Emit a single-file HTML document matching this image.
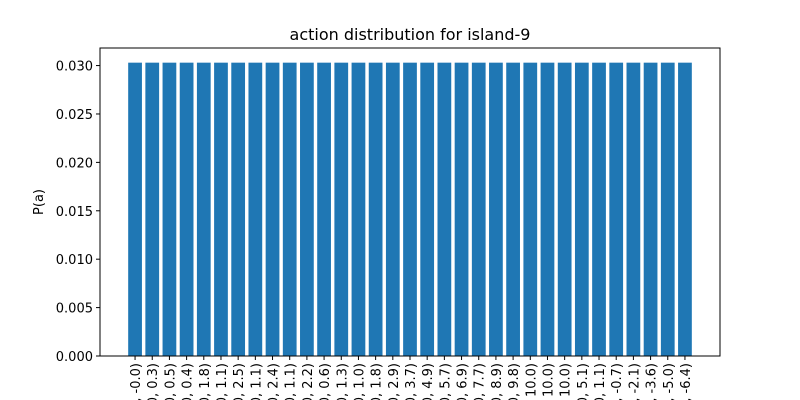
<!DOCTYPE html>
<html><head><meta charset="utf-8"><style>
body{margin:0;background:#fff;width:800px;height:400px;overflow:hidden}
svg{font-family:"DejaVu Sans","Liberation Sans",sans-serif;display:block;overflow:hidden}
</style></head><body>
<svg id="chart" width="800" height="400">
<defs><clipPath id="frameclip"><rect x="0" y="0" width="800" height="400"/></clipPath></defs>
<text x="410" y="40" text-anchor="middle" font-size="16">action distribution for island-9</text>
<text transform="translate(43,202) rotate(-90)" text-anchor="middle" font-size="13">P(a)</text>
<g id="bars"></g><g id="yt"></g><g id="xt" clip-path="url(#frameclip)"></g>
<rect x="100" y="48" width="620" height="308" fill="none" stroke="#000" stroke-width="1"/>
</svg>
<script>
const categories=["(0.0, -0.0)","(0.0, 0.3)","(0.0, 0.5)","(0.0, 0.4)","(0.0, 1.8)","(0.0, 1.1)","(0.0, 2.5)","(0.0, 1.1)","(0.0, 2.4)","(0.0, 1.1)","(0.0, 2.2)","(0.0, 0.6)","(0.0, 1.3)","(0.0, 1.0)","(0.0, 1.8)","(0.0, 2.9)","(0.0, 3.7)","(0.0, 4.9)","(0.0, 5.7)","(0.0, 6.9)","(0.0, 7.7)","(0.0, 8.9)","(0.0, 9.8)","(0.0, 10.0)","(0.0, 10.0)","(0.0, 10.0)","(0.0, 5.1)","(0.0, 1.1)","(0.0, -0.7)","(0.0, -2.1)","(0.0, -3.6)","(0.0, -5.0)","(0.0, -6.4)"];
const values=categories.map(()=>0.0303);
const yTicks=[0,0.005,0.010,0.015,0.020,0.025,0.030];
const yTickLabels=["0.000","0.005","0.010","0.015","0.020","0.025","0.030"];
const NS="http://www.w3.org/2000/svg";
const L=100,R=720,T=48,B=356;
const n=categories.length,span=(n-1)+0.8,mg=span*0.05;
const x0=-0.4-mg,x1=n-1+0.4+mg;
const ymax=Math.max(...values)*1.05;
const xs=v=>L+(v-x0)/(x1-x0)*(R-L);
const ys=v=>B-v/ymax*(B-T);
function mk(t,a){const e=document.createElementNS(NS,t);for(const k in a)e.setAttribute(k,a[k]);return e;}
const gb=document.getElementById('bars'),gy=document.getElementById('yt'),gx=document.getElementById('xt');
values.forEach((v,i)=>{
 const r=mk('rect',{x:xs(i-0.4),y:ys(v),width:xs(i+0.4)-xs(i-0.4),height:B-ys(v),fill:'#1f77b4'});
 
 
 gb.appendChild(r);
 const tk=mk('line',{x1:xs(i),x2:xs(i),y1:B,y2:B+4,stroke:'#000'});
 
 
 gx.appendChild(tk);
 const t=mk('text',{transform:`translate(${xs(i)+5},${B+7}) rotate(-90)`,'text-anchor':'end','font-size':13});
 t.textContent=categories[i];
 
 
 gx.appendChild(t);
});
yTicks.forEach((v,i)=>{
 const tk=mk('line',{x1:L-4,x2:L,y1:ys(v),y2:ys(v),stroke:'#000'});
 
 
 gy.appendChild(tk);
 const t=mk('text',{x:L-7,y:ys(v)+5,'text-anchor':'end','font-size':13});
 t.textContent=yTickLabels[i];
 
 
 gy.appendChild(t);
});
</script>
</body></html>
